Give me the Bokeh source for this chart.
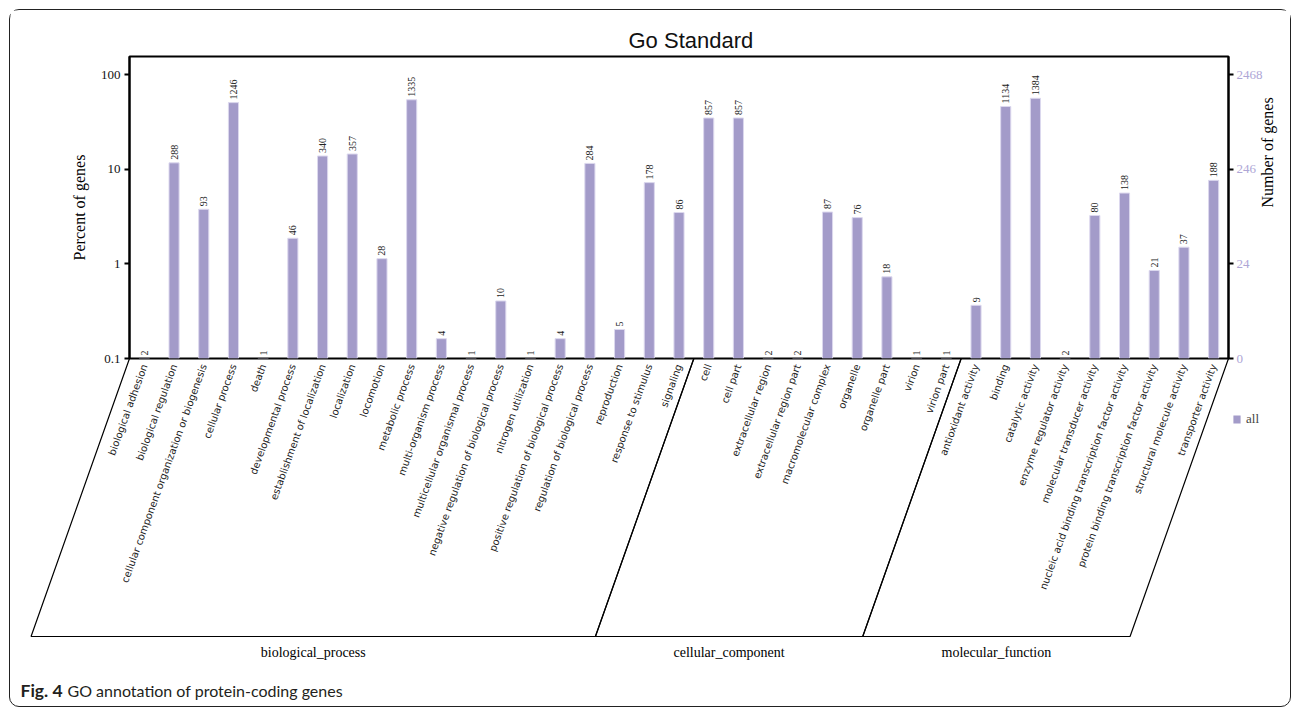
import math
from bokeh.plotting import figure
from bokeh.layouts import column
from bokeh.models import (FactorRange, Range1d, LogAxis, FixedTicker, Label, Legend,
                          LegendItem, ColumnDataSource)
from bokeh.core.properties import value
from bokeh.embed import file_html
from bokeh.resources import INLINE

# ---------------- data ----------------
bp_terms = ["biological adhesion", "biological regulation",
            "cellular component organization or biogenesis", "cellular process", "death",
            "developmental process", "establishment of localization", "localization",
            "locomotion", "metabolic process", "multi-organism process",
            "multicellular organismal process", "negative regulation of biological process",
            "nitrogen utilization", "positive regulation of biological process",
            "regulation of biological process", "reproduction", "response to stimulus",
            "signaling"]
bp_counts = [2, 288, 93, 1246, 1, 46, 340, 357, 28, 1335, 4, 1, 10, 1, 4, 284, 5, 178, 86]

cc_terms = ["cell", "cell part", "extracellular region", "extracellular region part",
            "macromolecular complex", "organelle", "organelle part", "virion", "virion part"]
cc_counts = [857, 857, 2, 2, 87, 76, 18, 1, 1]

mf_terms = ["antioxidant activity", "binding", "catalytic activity",
            "enzyme regulator activity", "molecular transducer activity",
            "nucleic acid binding transcription factor activity",
            "protein binding transcription factor activity",
            "structural molecule activity", "transporter activity"]
mf_counts = [9, 1134, 1384, 2, 80, 138, 21, 37, 188]

group_names = ["biological_process", "cellular_component", "molecular_function"]
total_genes = 2468
left_ticks = [0.1, 1, 10, 100]
left_tick_labels = ["0.1", "1", "10", "100"]
right_tick_labels = ["0", "24", "246", "2468"]

title_text = "Go Standard"
caption_bold = "Fig. 4"
caption_text = "GO annotation of protein-coding genes"

# ---------------- derived ----------------
groups = [bp_terms, cc_terms, mf_terms]
terms = bp_terms + cc_terms + mf_terms
counts = bp_counts + cc_counts + mf_counts
n = len(terms)
pct = [c / total_genes * 100 for c in counts]
label_y = [max(v, 0.1) for v in pct]

src = ColumnDataSource(dict(term=terms, pct=pct, label_y=label_y,
                            txt=[str(c) for c in counts]))

# ---------------- layout constants ----------------
BAR = "#a39bc9"
EDGE = "#dcd8ee"
SERIF = "Liberation Serif"
W = 1280
OVERLAP = 10
BORDER_L, BORDER_R, BORDER_T, BORDER_B = 119, 62, 46, OVERLAP
FRAME_H = 302
TOP_H = BORDER_T + FRAME_H + BORDER_B
BOT_H = 696 - BORDER_T - FRAME_H
unit_px = (W - BORDER_L - BORDER_R) / n

# ---------------- top figure: bars & axes ----------------
p = figure(width=W, height=TOP_H,
           x_range=FactorRange(factors=terms),
           y_range=Range1d(0.1, 155), y_axis_type="log",
           x_axis_location=None,
           output_backend="svg", toolbar_location=None,
           min_border_left=BORDER_L, min_border_top=BORDER_T,
           min_border_right=BORDER_R, min_border_bottom=BORDER_B)
p.frame_align = False

bars = p.vbar(x="term", top="pct", bottom=0.1, width=0.34, source=src,
              fill_color=BAR, line_color=EDGE, line_width=1)

p.text(x="term", y="label_y", text="txt", source=src, angle=math.pi / 2,
       text_align="left", text_baseline="middle", y_offset=-3,
       text_font=value(SERIF), text_font_size="10px", text_color="#222222")

p.xgrid.visible = False
p.ygrid.visible = False
p.outline_line_color = "black"
p.outline_line_width = 2

p.title.text = title_text
p.title.align = "left"
p.title.offset = 499
p.title.standoff = 8
p.title.text_font = "Liberation Sans"
p.title.text_font_size = "22px"
p.title.text_font_style = "normal"
p.title.text_color = "#111111"

ya = p.yaxis[0]
ya.ticker = FixedTicker(ticks=left_ticks)
ya.major_label_overrides = dict(zip(left_ticks, left_tick_labels))
ya.axis_label = "Percent of genes"
ya.axis_label_text_font = SERIF
ya.axis_label_text_font_size = "16px"
ya.axis_label_text_font_style = "normal"
ya.axis_label_text_color = "black"
ya.axis_label_standoff = 10
ya.major_label_text_font = SERIF
ya.major_label_text_font_size = "13px"
ya.major_label_text_color = "#111111"
ya.major_label_standoff = 4
ya.axis_line_width = 2
ya.major_tick_line_width = 2
ya.major_tick_out = 5
ya.major_tick_in = 0
ya.minor_tick_line_color = None

ra = LogAxis(ticker=FixedTicker(ticks=left_ticks),
             major_label_overrides=dict(zip(left_ticks, right_tick_labels)),
             axis_label="Number of genes", axis_label_orientation=math.pi / 2)
ra.axis_label_text_font = SERIF
ra.axis_label_text_font_size = "16px"
ra.axis_label_text_font_style = "normal"
ra.axis_label_text_color = "black"
ra.axis_label_standoff = 2
ra.major_label_text_font = SERIF
ra.major_label_text_font_size = "13px"
ra.major_label_text_color = "#aea6d6"
ra.major_label_standoff = 3
ra.axis_line_width = 2
ra.major_tick_line_width = 2
ra.major_tick_out = 5
ra.major_tick_in = 0
ra.minor_tick_line_color = None
p.add_layout(ra, "right")

# ---------------- bottom figure: category labels, group brackets, legend, caption ----------------
x0 = -BORDER_L / unit_px
x1 = n + BORDER_R / unit_px
q = figure(width=W, height=BOT_H, x_range=Range1d(x0, x1), y_range=Range1d(-BOT_H, 0),
           x_axis_location=None, y_axis_location=None,
           output_backend="svg", toolbar_location=None,
           min_border=0, min_border_left=0, min_border_right=0,
           min_border_top=0, min_border_bottom=0)
q.frame_align = False
q.xgrid.visible = False
q.ygrid.visible = False
q.outline_line_color = None
q.background_fill_alpha = 0
q.border_fill_alpha = 0
q.styles = {"margin-top": "-%dpx" % OVERLAP}

centers = [i + 0.5 for i in range(n)]
q.text(x=centers, y=[-6] * n, text=terms, angle=math.radians(70),
       text_align="right", text_baseline="middle",
       text_font=value("DejaVu Sans"), text_font_size="10px", text_color="#222222")

depth = 278
shear = depth / math.tan(math.radians(70.5)) / unit_px
bx, by, gx, gy = [], [], [], []
start = 0
for g in groups:
    end = start + len(g)
    bx.append([start, end, end - shear, start - shear, start])
    by.append([0, 0, -depth, -depth, 0])
    gx.append((start + end) / 2 - shear)
    gy.append(-depth - 16)
    start = end
q.multi_line(xs=bx, ys=by, line_color="black", line_width=1.2)
q.text(x=gx, y=gy, text=group_names, text_align="center", text_baseline="middle",
       text_font=value(SERIF), text_font_size="14px", text_color="black")

# legend swatch: zero-height copy of the bar series (invisible on the canvas)
legend_src = q.vbar(x=centers, top=[0] * n, bottom=[0] * n, width=0.34,
                    fill_color=BAR, line_color=None)
legend = Legend(items=[LegendItem(label="all", renderers=[legend_src])], location=(1222, 279),
                border_line_color=None, background_fill_alpha=0, padding=0, margin=0,
                glyph_width=9, glyph_height=10, label_text_font=SERIF,
                label_text_font_size="13px", label_standoff=5, spacing=0)
q.add_layout(legend)

q.add_layout(Label(x=10, y=16, x_units="screen", y_units="screen", text=caption_bold,
                   text_align="left", text_baseline="middle", text_font="Lato",
                   text_font_style="bold", text_font_size="17.5px", text_color="#231f20"))
q.add_layout(Label(x=57, y=16, x_units="screen", y_units="screen", text=caption_text,
                   text_align="left", text_baseline="middle", text_font="Lato",
                   text_font_size="16px", text_color="#231f20"))

layout = column(p, q, spacing=0)
layout.styles = {"border": "1px solid #222222", "border-radius": "10px",
                 "margin-left": "9px", "margin-top": "9px"}

open("out.html", "w").write(file_html(layout, INLINE))
